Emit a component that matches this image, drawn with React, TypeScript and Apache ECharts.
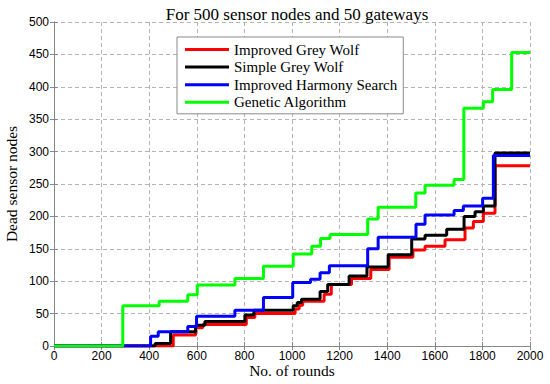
import React, { useEffect, useRef } from "react";
import * as echarts from "echarts";

const seriesNames = ["Improved Grey Wolf", "Simple Grey Wolf", "Improved Harmony Search", "Genetic Algorithm"];
const seriesColors = ["#ff0000", "#000000", "#0000ff", "#00ff00"];

const igwRounds = [0, 501, 595, 625, 808, 844, 1013, 1030, 1045, 1135, 1165, 1250, 1331, 1408, 1508, 1559, 1643, 1727, 1762, 1804, 1853, 2000];
const igwDead = [0, 17, 28, 33, 44, 50, 57, 63, 69, 80, 95, 104, 118, 137, 148, 154, 164, 182, 192, 205, 278, 278];

const sgwRounds = [0, 425, 490, 595, 634, 802, 840, 1005, 1022, 1040, 1118, 1150, 1240, 1315, 1404, 1503, 1559, 1650, 1723, 1769, 1804, 1853, 2000];
const sgwDead = [0, 4, 22, 32, 38, 48, 55, 62, 67, 72, 84, 95, 108, 122, 141, 165, 171, 180, 200, 207, 216, 298, 298];

const ihsRounds = [0, 406, 438, 562, 599, 760, 880, 1003, 1078, 1118, 1157, 1318, 1362, 1521, 1559, 1681, 1720, 1801, 1846, 2000];
const ihsDead = [0, 15, 22, 30, 46, 55, 75, 98, 103, 113, 124, 150, 168, 188, 202, 209, 216, 228, 294, 294];

const gaRounds = [0, 289, 442, 562, 602, 760, 880, 1005, 1083, 1120, 1160, 1318, 1362, 1520, 1559, 1681, 1722, 1804, 1843, 1923, 2000];
const gaDead = [0, 62, 69, 79, 94, 104, 123, 142, 154, 166, 172, 196, 214, 236, 248, 257, 367, 377, 396, 453, 453];

const allRounds = [igwRounds, sgwRounds, ihsRounds, gaRounds];
const allDead = [igwDead, sgwDead, ihsDead, gaDead];

const titleText = "For 500 sensor nodes and 50 gateways";
const xName = "No. of rounds";
const yName = "Dead sensor nodes";

export default function App() {
  const ref = useRef<HTMLDivElement>(null);
  useEffect(() => {
    if (!ref.current) return;
    const chart = echarts.init(ref.current, null, { renderer: "svg" });
    const axisColor = "#888888";
    const gridLine = { show: true, lineStyle: { color: "#b4b4b4", type: [4, 3] as any, width: 1 } };
    const serif = "'Liberation Serif', 'Times New Roman', serif";
    const sans = "'Liberation Sans', Arial, sans-serif";
    chart.setOption({
      animation: false,
      backgroundColor: "#ffffff",
      title: {
        text: titleText,
        left: 292,
        top: 1,
        textAlign: "center",
        textStyle: { fontFamily: serif, fontSize: 17, fontWeight: "normal", color: "#000" },
      },
      legend: {
        data: seriesNames,
        orient: "vertical",
        left: 177,
        top: 37,
        padding: [5, 6, 4, 8],
        itemGap: 2.6,
        itemWidth: 44,
        itemHeight: 3,
        icon: "rect",
        backgroundColor: "#ffffff",
        borderColor: "#8a8a8a",
        borderWidth: 1,
        borderRadius: 0,
        textStyle: { fontFamily: serif, fontSize: 15, color: "#000", lineHeight: 15, padding: [0, 0, 0, 0] },
      },
      grid: { left: 54, right: 20, top: 22, bottom: 38, containLabel: false, outerBoundsMode: "none" },
      xAxis: [
        {
          type: "value",
          min: 0,
          max: 2000,
          interval: 200,
          name: xName,
          nameLocation: "middle",
          nameGap: 16,
          nameMoveOverlap: false,
          nameTextStyle: { fontFamily: serif, fontSize: 15.5, color: "#000" },
          axisLine: { show: true, lineStyle: { color: axisColor } },
          axisTick: { show: true, inside: true, length: 4, lineStyle: { color: axisColor } },
          axisLabel: { fontFamily: sans, fontSize: 12, color: "#000", margin: 4, formatter: (v: number) => String(v) },
          splitLine: gridLine,
        },
        {
          type: "value",
          position: "top",
          min: 0,
          max: 2000,
          interval: 200,
          axisLine: { show: true, lineStyle: { color: axisColor } },
          axisTick: { show: true, inside: true, length: 4, lineStyle: { color: axisColor } },
          axisLabel: { show: false },
          splitLine: { show: false },
        },
      ],
      yAxis: [
        {
          type: "value",
          min: 0,
          max: 500,
          interval: 50,
          name: yName,
          nameLocation: "middle",
          nameGap: 35,
          nameMoveOverlap: false,
          nameTextStyle: { fontFamily: serif, fontSize: 15.5, color: "#000" },
          axisLine: { show: true, lineStyle: { color: axisColor } },
          axisTick: { show: true, inside: true, length: 4, lineStyle: { color: axisColor } },
          axisLabel: { fontFamily: sans, fontSize: 12, color: "#000", margin: 5, formatter: (v: number) => String(v) },
          splitLine: gridLine,
        },
        {
          type: "value",
          position: "right",
          min: 0,
          max: 500,
          interval: 50,
          axisLine: { show: true, lineStyle: { color: axisColor } },
          axisTick: { show: true, inside: true, length: 4, lineStyle: { color: axisColor } },
          axisLabel: { show: false },
          splitLine: { show: false },
        },
      ],
      series: seriesNames.map((name, i) => ({
        name,
        type: "line",
        step: "end",
        xAxisIndex: 0,
        yAxisIndex: 0,
        showSymbol: false,
        symbol: "none",
        clip: true,
        data: allRounds[i].map((r, j) => [r, allDead[i][j]]),
        lineStyle: { color: seriesColors[i], width: 3 },
        itemStyle: { color: seriesColors[i] },
        z: 2 + i,
      })),
    });
    return () => chart.dispose();
  }, []);
  return (
    <div
      ref={ref}
      style={{ position: "fixed", left: 0, top: 0, width: 550, height: 384, background: "#fff" }}
    />
  );
}
